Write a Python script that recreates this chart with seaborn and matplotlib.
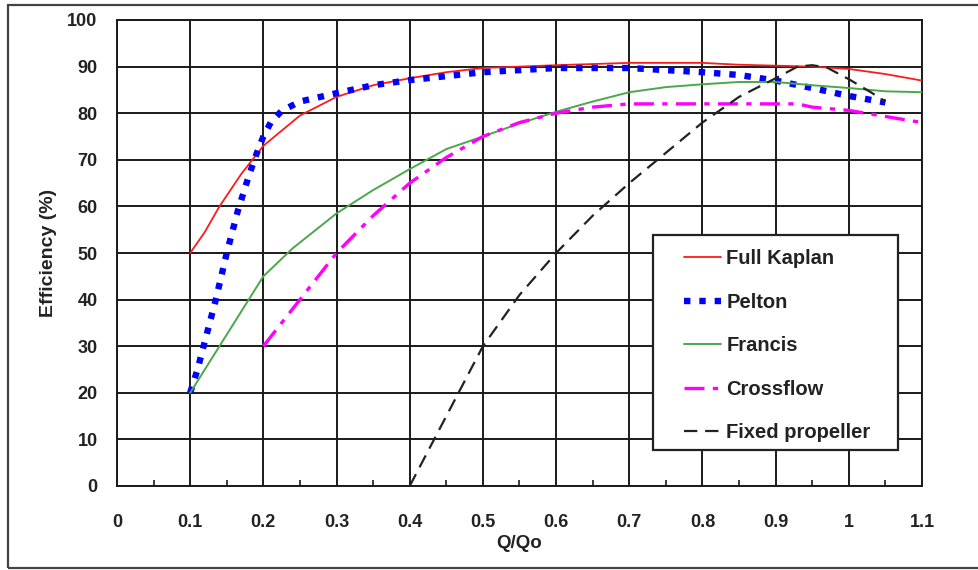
"""Turbine efficiency vs relative flow (Q/Qo) for several turbine types."""

import numpy as np
import pandas as pd
import matplotlib
matplotlib.use("Agg")
import matplotlib.pyplot as plt
from matplotlib.patches import Rectangle
from matplotlib.ticker import MultipleLocator
import seaborn as sns


# Values.
kaplan_q = [0.1, 0.12, 0.14, 0.17, 0.2, 0.25, 0.3, 0.35, 0.4, 0.45, 0.5, 0.6, 0.7, 0.8, 0.85, 0.9, 0.95, 1.0, 1.05, 1.1]
kaplan_eff = [50, 54.5, 60, 67, 73, 79.5, 83.5, 86, 87.5, 88.8, 89.7, 90.3, 90.8, 90.8, 90.4, 90.2, 90, 89.5, 88.4, 87]

pelton_q = [0.1, 0.11, 0.12, 0.135, 0.15, 0.165, 0.18, 0.19, 0.2, 0.21, 0.225, 0.25, 0.3, 0.35, 0.4, 0.5, 0.6, 0.7, 0.8, 0.85, 0.9, 0.95, 1.0, 1.05]
pelton_eff = [20, 25, 31, 40, 50, 59, 66.5, 71, 75, 78, 80.5, 82.5, 84.3, 86, 87.1, 88.8, 89.7, 89.7, 88.8, 88.2, 87, 85.4, 83.7, 82.3]

francis_q = [0.1, 0.14, 0.18, 0.2, 0.24, 0.3, 0.35, 0.4, 0.45, 0.5, 0.55, 0.6, 0.65, 0.7, 0.75, 0.8, 0.85, 0.9, 0.95, 1.0, 1.05, 1.1]
francis_eff = [20, 30, 40, 45, 51, 58.5, 63.5, 68, 72.3, 75, 77.8, 80.3, 82.5, 84.5, 85.6, 86.2, 86.7, 86.7, 86, 85.4, 84.7, 84.5]

crossflow_q = [0.2, 0.25, 0.3, 0.35, 0.4, 0.45, 0.5, 0.55, 0.6, 0.65, 0.7, 0.8, 0.9, 0.93, 0.95, 1.0, 1.05, 1.1]
crossflow_eff = [30, 40, 50, 58, 65, 70.5, 75, 78, 80, 81.3, 82, 82, 82, 82, 81.3, 80.6, 79.3, 78]

propeller_q = [0.4, 0.42, 0.45, 0.5, 0.55, 0.6, 0.65, 0.7, 0.75, 0.8, 0.85, 0.9, 0.93, 0.95, 0.97, 1.0, 1.03, 1.05]
propeller_eff = [0, 6, 15, 30, 41, 50, 58, 65, 71.5, 78, 83.5, 87.5, 90, 90.3, 89.8, 87.3, 84.5, 82.5]

x_ticks = [0, 0.1, 0.2, 0.3, 0.4, 0.5, 0.6, 0.7, 0.8, 0.9, 1.0, 1.1]
x_tick_labels = ["0", "0.1", "0.2", "0.3", "0.4", "0.5", "0.6", "0.7", "0.8", "0.9", "1", "1.1"]
y_ticks = [0, 10, 20, 30, 40, 50, 60, 70, 80, 90, 100]


sns.set_style("white")
plt.rcParams["font.family"] = ["Liberation Sans", "DejaVu Sans"]
plt.rcParams["font.weight"] = "bold"

fig = plt.figure(figsize=(9.79, 5.70), dpi=100)
ax = fig.add_axes([117 / 979, 1 - 486 / 570, (922 - 117) / 979, (486 - 20) / 570])

# Outer frame round the whole chart (open on the right, as in the source).
fig.patches.append(Rectangle((8 / 979, 2 / 570), 1.2, 1 - 7 / 570, transform=fig.transFigure,
                             fill=False, edgecolor="#444444", linewidth=1.6, zorder=0))

# Curves.
series = [
    ("Full Kaplan", kaplan_q, kaplan_eff, dict(color="#ff1a1a", linewidth=1.3, linestyle="-")),
    ("Pelton", pelton_q, pelton_eff, dict(color="#0000ff", linewidth=4.6, linestyle=(0, (1.0, 1.4)))),
    ("Francis", francis_q, francis_eff, dict(color="#4aa84a", linewidth=1.4, linestyle="-")),
    ("Crossflow", crossflow_q, crossflow_eff, dict(color="#ff00ff", linewidth=2.4, linestyle=(0, (6, 2.5, 1.6, 2.5)))),
    ("Fixed propeller", propeller_q, propeller_eff, dict(color="#222222", linewidth=1.6, linestyle=(0, (6, 3.5)))),
]
for name, q, eff, style in series:
    df = pd.DataFrame({"Q/Qo": q, "Efficiency": eff})
    sns.lineplot(data=df, x="Q/Qo", y="Efficiency", ax=ax, label=name, zorder=3, **style)

# Axes, grid and ticks.
ax.set_xlim(0, 1.1)
ax.set_ylim(0, 100)
ax.set_xticks(x_ticks)
ax.set_xticklabels(x_tick_labels)
ax.set_yticks(y_ticks)
ax.xaxis.set_minor_locator(MultipleLocator(0.05))
ax.grid(True, which="major", color="#1a1a1a", linewidth=1.4)
ax.tick_params(axis="both", which="major", direction="out", length=6, width=1.4,
               color="#1a1a1a", labelsize=13, labelcolor="#222222")
ax.tick_params(axis="x", which="major", pad=14)
ax.tick_params(axis="y", which="major", pad=8)
ax.tick_params(axis="x", which="minor", direction="in", length=4, width=1.2, color="#1a1a1a", bottom=True)
for s in ax.spines.values():
    s.set_color("#1a1a1a")
    s.set_linewidth(1.4)

ax.set_xlabel("Q/Qo", fontsize=13.5, fontweight="bold", color="#222222")
ax.set_ylabel("Efficiency (%)", fontsize=14, fontweight="bold", color="#222222")
ax.xaxis.set_label_coords(0.5, -0.105)
ax.yaxis.set_label_coords(-0.074, 0.5)

# Legend: frame drawn as its own box, entries placed inside it.
box = Rectangle((653 / 979, 1 - 450 / 570), (898 - 653) / 979, (450 - 235) / 570,
                transform=fig.transFigure, facecolor="white", edgecolor="#222222",
                linewidth=1.6, zorder=4, clip_on=False)
ax.add_patch(box)
leg = ax.legend(loc="upper left", bbox_to_anchor=(684 / 979, 1 - 249 / 570), bbox_transform=fig.transFigure,
                borderaxespad=0, borderpad=0, frameon=False, fontsize=14.5,
                handlelength=1.85, labelspacing=1.22, handletextpad=0.25)
leg.set_zorder(5)
for t in leg.get_texts():
    t.set_fontweight("bold")
    t.set_color("#222222")

fig.savefig("out.png", dpi=100)
